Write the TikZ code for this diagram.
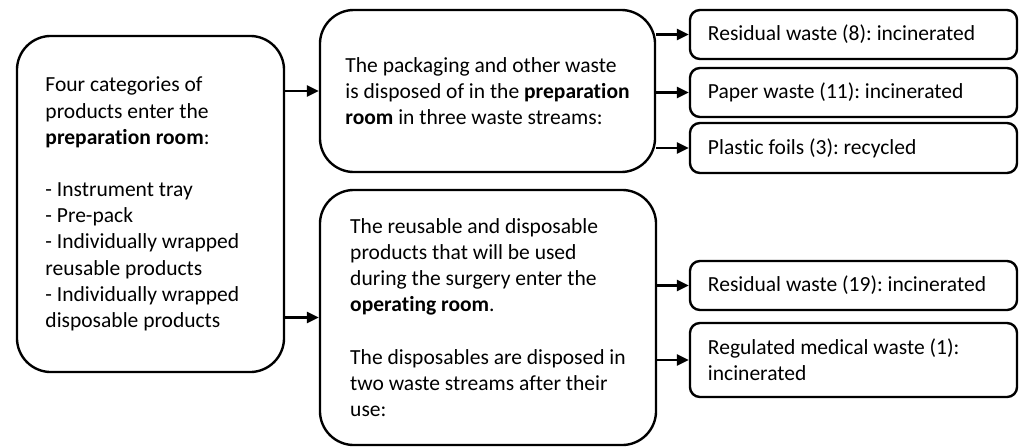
\documentclass[tikz,border=0pt]{standalone}
\usepackage{fontspec}
\setmainfont{Carlito}[Ligatures=NoCommon]
\usetikzlibrary{arrows.meta}

\tikzset{
  roombox/.style={draw,line width=1.7pt,rounded corners=0.85cm,align=flush left,
    inner xsep=0pt,inner ysep=2pt},
  streambox/.style={draw,line width=1.7pt,rounded corners=0.25cm,align=flush left,
    minimum width=8.175cm,text width=7.275cm,inner xsep=0.45cm,inner ysep=2pt},
  flow/.style={line width=1.7pt,-{Triangle[length=0.3cm,width=0.28cm]}}
}

\begin{document}
\begin{tikzpicture}[x=0.025cm,y=-0.025cm,font=\fontsize{15.3}{18.6}\selectfont\frenchspacing]

  \useasboundingbox (0,0) rectangle (1020,447);

  \node[roombox,minimum width=6.675cm,minimum height=8.4cm,text width=5.25cm,inner xsep=0.7cm]
    at (150.5,204) (entry) {Four categories of\\products enter the\\\textbf{preparation room}:\\[18.6pt]
    - Instrument tray\\- Pre-pack\\- Individually wrapped\\reusable products\\
    - Individually wrapped\\disposable products};

  \node[roombox,minimum width=8.375cm,minimum height=4.05cm] at (487.5,91) (prep)
    {The packaging and other waste\\is disposed of in the \textbf{preparation}\\
    \textbf{room} in three waste streams:};

  \node[roombox,minimum width=8.4cm,minimum height=6.375cm] at (488,317.5) (oper)
    {The reusable and disposable\\products that will be used\\during the surgery enter the\\
    \textbf{operating room}.\\[18.6pt]
    The disposables are disposed in\\two waste streams after their\\use:};

  \node[streambox,minimum height=1.225cm] at (853.5,34.5) (resid1) {Residual waste (8): incinerated};
  \node[streambox,minimum height=1.225cm] at (853.5,92.5) (paper) {Paper waste (11): incinerated};
  \node[streambox,minimum height=1.25cm] at (853.5,148) (foils) {Plastic foils (3): recycled};

  \node[streambox,minimum height=1.225cm] at (853.5,285.5) (resid2) {Residual waste (19): incinerated};
  \node[streambox,minimum height=1.85cm] at (853.5,360) (medical) {Regulated medical waste (1):\\incinerated};

  \draw[flow] (entry.east |- prep.west) -- (prep.west);
  \draw[flow] (entry.east |- oper.west) -- (oper.west);

  \draw[flow] (prep.east |- resid1.west) -- (resid1.west);
  \draw[flow] (prep.east |- paper.west) -- (paper.west);
  \draw[flow] (prep.east |- foils.west) -- (foils.west);

  \draw[flow] (oper.east |- resid2.west) -- (resid2.west);
  \draw[flow] (oper.east |- medical.west) -- (medical.west);
\end{tikzpicture}
\end{document}
